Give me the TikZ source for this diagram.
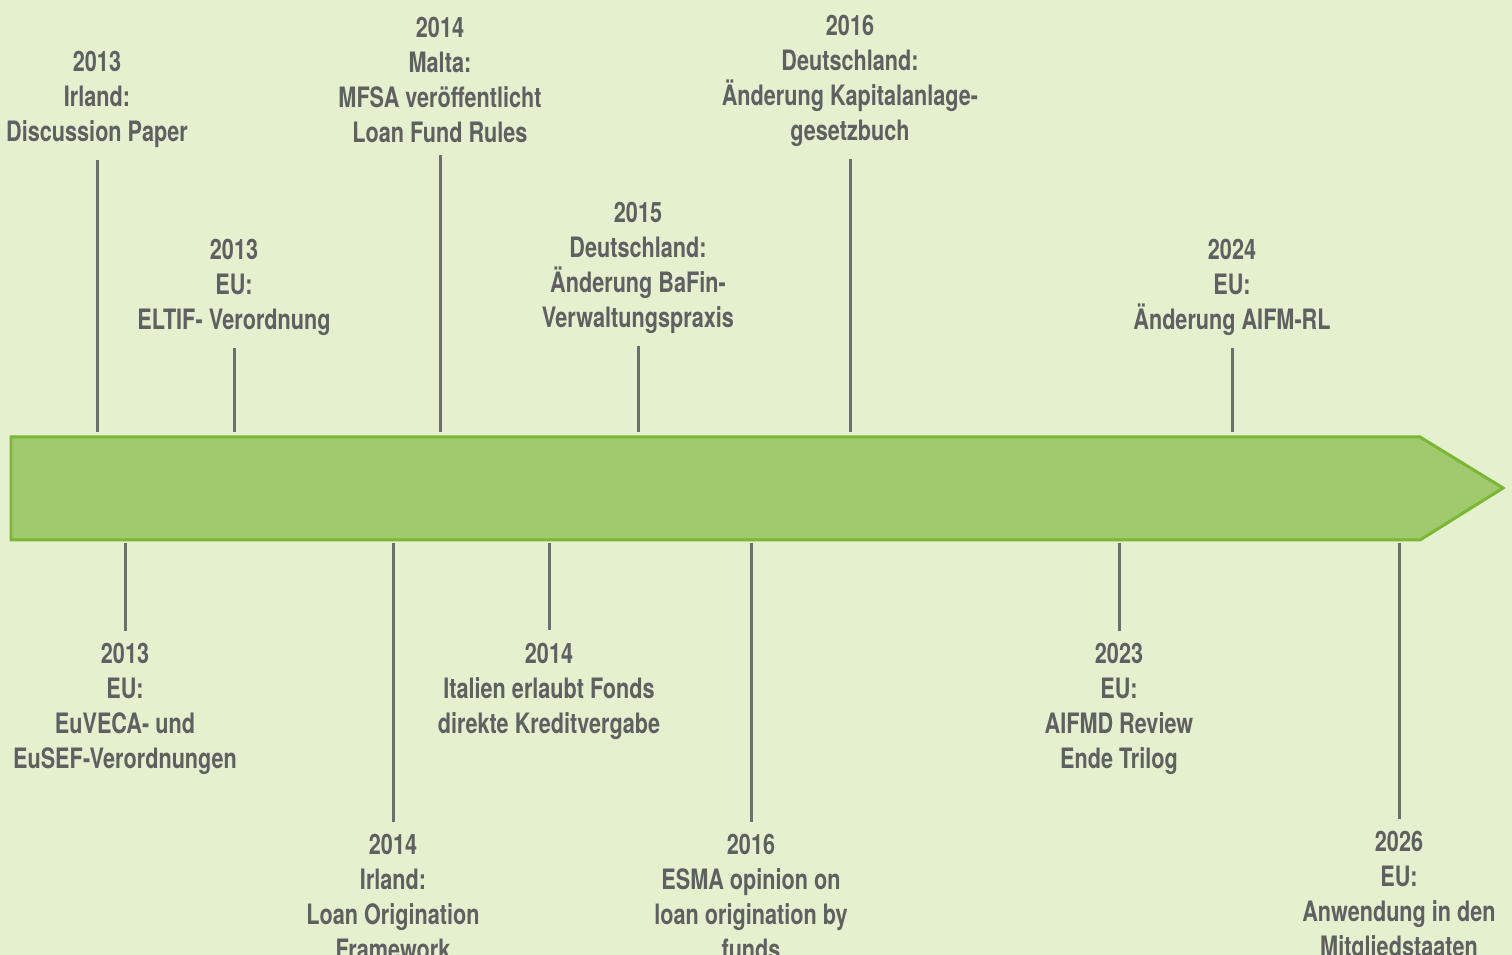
\documentclass[tikz,border=0pt]{standalone}
\usepackage{fontspec}
\newfontfamily\tlfont{TeX Gyre Heros}[FakeStretch=0.77]
\definecolor{TLBack}{HTML}{E4F0CE}
\definecolor{TLFill}{HTML}{A1C96D}
\definecolor{TLEdge}{HTML}{78B832}
\definecolor{TLText}{HTML}{5F6062}
\definecolor{TLLine}{HTML}{6E6E70}
\usepackage{tikz}
\usetikzlibrary{positioning,calc}

\begin{document}
\begin{tikzpicture}[x=0.02cm, y=-0.02cm,
    event/.style={align=center, inner sep=0pt, outer ysep=0.25cm, text=TLText,
      font=\tlfont\bfseries\fontsize{16}{19.9}\selectfont},
    tick/.style={draw=TLLine, line width=0.06cm}]
    \fill[TLBack] (0,0) rectangle (1512,955);
    \useasboundingbox (0,0) rectangle (1512,955);
    % timeline arrow
    \draw[fill=TLFill, draw=TLEdge, line width=0.06cm, line join=miter]
      (11,437) -- (1420,437) -- (1503,488) -- (1420,540) -- (11,540) -- cycle;
    \coordinate (top) at (0,432);
    \coordinate (bot) at (0,543);
    % above
    \node[event] (a1) at (97,99.5) {2013\\Irland:\\Discussion Paper};
    \node[event] (a2) at (234,287) {2013\\EU:\\ELTIF- Verordnung};
    \node[event] (a3) at (440,80) {2014\\Malta:\\MFSA veröffentlicht\\Loan Fund Rules};
    \node[event] (a4) at (638,268) {2015\\Deutschland:\\Änderung BaFin-\\Verwaltungspraxis};
    \node[event] (a5) at (850,81) {2016\\Deutschland:\\Änderung Kapitalanlage-\\gesetzbuch};
    \node[event] (a6) at (1232,287) {2024\\EU:\\Änderung AIFM-RL};
    % below
    \node[event] (b1) at (125,709) {2013\\EU:\\EuVECA- und\\EuSEF-Verordnungen};
    \node[event] (b2) at (393,897) {2014\\Irland:\\Loan Origination\\Framework};
    \node[event] (b3) at (549,691) {2014\\Italien erlaubt Fonds\\direkte Kreditvergabe};
    \node[event] (b4) at (751,897) {2016\\ESMA opinion on\\loan origination by\\funds};
    \node[event] (b5) at (1119,709) {2023\\EU:\\AIFMD Review\\Ende Trilog};
    \node[event] (b6) at (1399,897) {2026\\EU:\\Anwendung in den\\Mitgliedstaaten};
    \foreach \n in {a1,a2,a3,a4,a5,a6}
      \draw[tick] (\n) -- (\n |- top);
    \foreach \n in {b1,b2,b3,b4,b5,b6}
      \draw[tick] (\n) -- (\n |- bot);
  \end{tikzpicture}
\end{document}
